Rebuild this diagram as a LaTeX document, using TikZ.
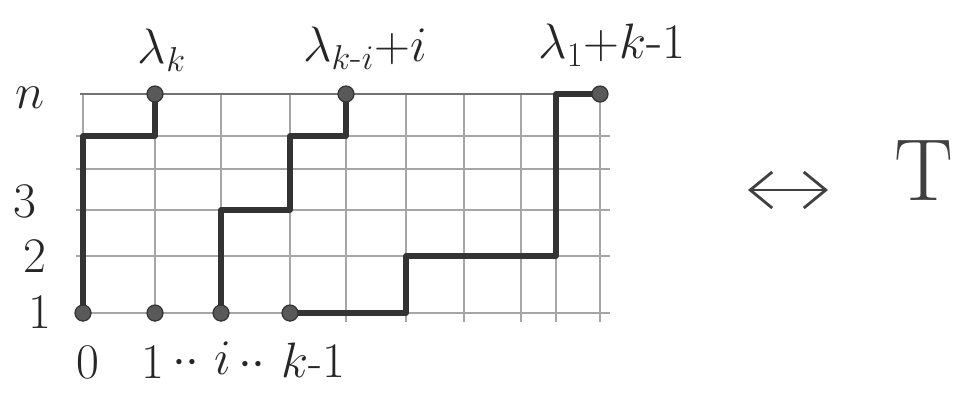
\documentclass[tikz,border=0pt]{standalone}
\usepackage{amsmath}
\usetikzlibrary{arrows.meta}
\begin{document}
\begin{tikzpicture}[x=0.5pt,y=-0.5pt,
  gridline/.style={draw=black!35,line width=0.8pt},
  lpath/.style={draw=black!80,line width=2.6pt,line join=round,line cap=round},
  dot/.style={circle,fill=black!65,draw=black!80,line width=0.6pt,inner sep=0pt,minimum size=8pt},
  lab/.style={font=\fontsize{23}{28}\selectfont,text=black!85},
  toplab/.style={font=\fontsize{27}{32}\selectfont,text=black!85}]
\useasboundingbox (0,0) rectangle (970,404);
% Grid
\foreach \x in {83,155,221,290,346,406,464,521,556,600}
  \draw[gridline] (\x,94) -- (\x,322);
\foreach \y in {313,256,210,169,136}
  \draw[gridline] (76,\y) -- (610,\y);
\draw[gridline,draw=black!55] (80,94) -- (604,94);
% Lattice points
\foreach \x [count=\i from 0] in {83,155,221,290,346,406,464,521,556,600}
  \foreach \y [count=\j] in {313,256,210,169,136,94}
    \coordinate (p-\i-\j) at (\x,\y);
% Paths
\draw[lpath] (p-0-1) -- (p-0-5) -- (p-1-5) -- (p-1-6);
\draw[lpath] (p-2-1) -- (p-2-3) -- (p-3-3) -- (p-3-5) -- (p-4-5) -- (p-4-6);
\draw[lpath] (p-3-1) -- (p-5-1) -- (p-5-2) -- (p-8-2) -- (p-8-6) -- (p-9-6);
% Start and end points
\node[dot] (s0) at (p-0-1) {}; \node[dot] (s1) at (p-1-1) {};
\node[dot] (si) at (p-2-1) {}; \node[dot] (sk) at (p-3-1) {};
\node[dot] (e1) at (p-1-6) {}; \node[dot] (ei) at (p-4-6) {};
\node[dot] (ek) at (p-9-6) {};
% Row labels
\node[lab] (yn) at (30,98) {$n$};
\node[lab] (y3) at (25,201) {$3$};
\node[lab] (y2) at (35,256) {$2$};
\node[lab] (y1) at (40,312) {$1$};
% Column labels
\node[lab] (x0) at (88,362) {$0$};
\node[lab] (x1) at (153,362) {$1$};
\node[lab] (xd1) at (186,363) {$\cdot\cdot$};
\node[lab] (xi) at (223,358) {$i$};
\node[lab] (xd2) at (252,365) {$\cdot\cdot$};
\node[lab] (xk) at (313,360) {$k\text{-}1$};
% End labels
\node[toplab] (lk) at (162,50) {$\lambda_k$};
\node[toplab] (lki) at (365,48) {$\lambda_{k\text{-}i}{+}i$};
\node[toplab] (l1) at (612,45) {$\lambda_1{+}k\text{-}1$};
% Bijection
\coordinate (bijL) at (748,190);
\coordinate (bijR) at (828,190);
\draw[line width=1.4pt,black!75,{Straight Barb[length=11pt,width=18pt]}-{Straight Barb[length=11pt,width=18pt]}] (bijL) -- (bijR);
\node[font=\fontsize{44}{50}\selectfont,text=black!75] (tab) at (924,171) {T};
\end{tikzpicture}
\end{document}
